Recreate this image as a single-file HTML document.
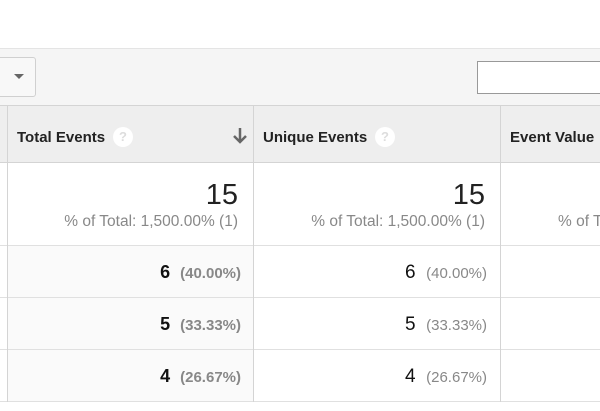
<!DOCTYPE html>
<html><head><style>
body{margin:0;width:600px;height:411px;overflow:hidden;background:#fff;font-family:"Liberation Sans",sans-serif;position:relative}
div{position:absolute;box-sizing:border-box}
.t{white-space:nowrap}
.q{width:20px;height:20px;border-radius:50%;background:#fff;color:#ddd;font-size:13px;font-weight:bold;text-align:center;line-height:20px}
.r{line-height:20px;height:20px}
.r span{vertical-align:baseline}
</style></head><body>
<div style="left:0;top:48px;width:600px;height:58px;background:#f5f5f5;border-top:1px solid #e4e4e4"></div>
<div style="left:-10px;top:57px;width:46px;height:40px;background:#f8f8f8;border:1px solid #d0d0d0;border-radius:3px"></div>
<div style="left:14px;top:74px;width:0;height:0;border-left:5px solid transparent;border-right:5px solid transparent;border-top:5px solid #666"></div>
<div style="left:477px;top:61px;width:130px;height:33px;background:#fff;border:1px solid #999"></div>
<div style="left:0;top:105px;width:600px;height:58px;background:#eeeeee;border-top:1px solid #d4d4d4;border-bottom:1px solid #d4d4d4"></div>
<div style="left:8px;top:245px;width:245px;height:157px;background:#fafafa"></div>
<div style="left:0;top:245px;width:600px;height:1px;background:#e0e0e0"></div>
<div style="left:0;top:297px;width:600px;height:1px;background:#e0e0e0"></div>
<div style="left:0;top:349px;width:600px;height:1px;background:#e0e0e0"></div>
<div style="left:0;top:401px;width:600px;height:1px;background:#e0e0e0"></div>
<div style="left:7px;top:106px;width:1px;height:296px;background:#d4d4d4"></div>
<div style="left:253px;top:106px;width:1px;height:296px;background:#d4d4d4"></div>
<div style="left:500px;top:106px;width:1px;height:296px;background:#d4d4d4"></div>
<div class="t" style="left:17px;top:129px;font-size:15px;font-weight:bold;color:#222">Total Events</div>
<div class="q" style="left:113px;top:127px">?</div>
<svg style="position:absolute;left:232px;top:127px" width="16" height="18"><path d="M8 1V15M2 9L8 15L14 9" stroke="#666" stroke-width="2.5" fill="none"/></svg>
<div class="t" style="left:263px;top:129px;font-size:15px;font-weight:bold;color:#222">Unique Events</div>
<div class="q" style="left:375px;top:127px">?</div>
<div class="t" style="left:510px;top:129px;font-size:15px;font-weight:bold;color:#222">Event Value</div>
<div class="t" style="right:362px;top:179px;font-size:29px;color:#222">15</div>
<div class="t" style="right:362px;top:213px;font-size:15.5px;color:#888">% of Total: 1,500.00% (1)</div>
<div class="t" style="right:115px;top:179px;font-size:29px;color:#222">15</div>
<div class="t" style="right:115px;top:213px;font-size:15.5px;color:#888">% of Total: 1,500.00% (1)</div>
<div class="t" style="left:558px;top:213px;font-size:15.5px;color:#888">% of T</div>
<div class="t r" style="right:359px;top:262px;font-size:18px;color:#111"><b>6</b>&nbsp; <span style="font-size:15px;color:#888;font-weight:bold">(40.00%)</span></div>
<div class="t r" style="right:359px;top:314px;font-size:18px;color:#111"><b>5</b>&nbsp; <span style="font-size:15px;color:#888;font-weight:bold">(33.33%)</span></div>
<div class="t r" style="right:359px;top:366px;font-size:18px;color:#111"><b>4</b>&nbsp; <span style="font-size:15px;color:#888;font-weight:bold">(26.67%)</span></div>
<div class="t r" style="right:113px;top:263px;font-size:19px;color:#111">6&nbsp; <span style="font-size:15px;color:#888">(40.00%)</span></div>
<div class="t r" style="right:113px;top:315px;font-size:19px;color:#111">5&nbsp; <span style="font-size:15px;color:#888">(33.33%)</span></div>
<div class="t r" style="right:113px;top:367px;font-size:19px;color:#111">4&nbsp; <span style="font-size:15px;color:#888">(26.67%)</span></div>
</body></html>
